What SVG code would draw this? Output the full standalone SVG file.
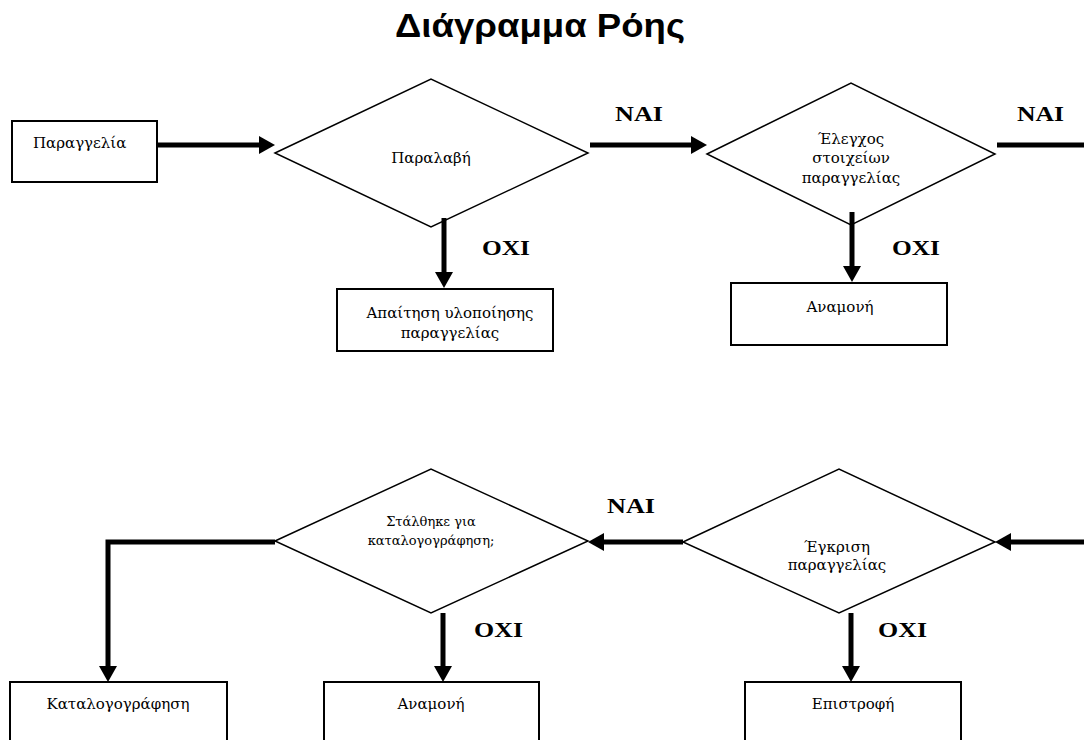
<svg xmlns="http://www.w3.org/2000/svg" width="1084" height="740" viewBox="0 0 1084 740">
  <style>
    .box { fill: #ffffff; stroke: #000000; stroke-width: 2; }
    .dia { fill: #ffffff; stroke: #000000; stroke-width: 1.5; }
    .t { font-family: "DejaVu Serif", "Liberation Serif", serif; font-size: 15px; fill: #000000; text-anchor: middle; }
    .ts { font-family: "DejaVu Serif", "Liberation Serif", serif; font-size: 13px; fill: #000000; text-anchor: middle; }
    .lbl { font-family: "Liberation Serif", "Times New Roman", serif; font-size: 22px; font-weight: bold; fill: #000000; }
    .title { font-family: "Liberation Sans", Arial, sans-serif; font-size: 33px; font-weight: bold; fill: #000000; text-anchor: middle; }
    .con { fill: none; stroke: #000000; stroke-width: 5; stroke-linejoin: miter; }
  </style>
  <defs>
    <marker id="arr" markerUnits="userSpaceOnUse" markerWidth="18" markerHeight="18" refX="8" refY="9" orient="auto" viewBox="0 0 18 18">
      <path d="M0,0 L16,9 L0,18 z" fill="#000000"/>
    </marker>
  </defs>

  <text class="title" x="540" y="37" textLength="290" lengthAdjust="spacingAndGlyphs">Διάγραμμα Ρόης</text>

  <g id="n-paraggelia">
    <rect class="box" x="12" y="121" width="145" height="61"/>
    <text class="t" x="33" y="148" style="text-anchor:start">Παραγγελία</text>
  </g>
  <g id="n-paralavi">
    <polygon class="dia" points="275,153 431,79 588,153 431,227"/>
    <text class="t" x="431" y="163">Παραλαβή</text>
  </g>
  <g id="n-elegxos">
    <polygon class="dia" points="707,154 851,83 995,154 851,225"/>
    <text class="t" x="851" y="144">Έλεγχος</text>
    <text class="t" x="851" y="163">στοιχείων</text>
    <text class="t" x="851" y="183">παραγγελίας</text>
  </g>
  <g id="n-apaitisi">
    <rect class="box" x="337" y="289" width="216" height="62"/>
    <text class="t" x="450" y="318">Απαίτηση υλοποίησης</text>
    <text class="t" x="450" y="338">παραγγελίας</text>
  </g>
  <g id="n-anamoni1">
    <rect class="box" x="731" y="283" width="216" height="62"/>
    <text class="t" x="840" y="312">Αναμονή</text>
  </g>
  <g id="n-stalthike">
    <polygon class="dia" points="275,541 431,469 588,541 431,613"/>
    <text class="ts" x="431" y="526">Στάλθηκε για</text>
    <text class="ts" x="431" y="545">καταλογογράφηση;</text>
  </g>
  <g id="n-egkrisi">
    <polygon class="dia" points="683,542 839,469 995,542 839,613"/>
    <text class="t" x="837" y="552">Έγκριση</text>
    <text class="t" x="837" y="570">παραγγελίας</text>
  </g>
  <g id="n-katalogografisi">
    <rect class="box" x="10" y="682" width="217" height="70"/>
    <text class="t" x="118" y="709">Καταλογογράφηση</text>
  </g>
  <g id="n-anamoni2">
    <rect class="box" x="324" y="682" width="215" height="70"/>
    <text class="t" x="431" y="709">Αναμονή</text>
  </g>
  <g id="n-epistrofi">
    <rect class="box" x="745" y="682" width="216" height="70"/>
    <text class="t" x="853" y="709">Επιστροφή</text>
  </g>

  <g id="connectors">
    <path class="con" d="M157,145 H267" marker-end="url(#arr)"/>
    <path class="con" d="M590,145 H699" marker-end="url(#arr)"/>
    <path class="con" d="M997,145 H1084"/>
    <path class="con" d="M444,218 V280" marker-end="url(#arr)"/>
    <path class="con" d="M852,212 V274" marker-end="url(#arr)"/>
    <path class="con" d="M1084,542 H1003" marker-end="url(#arr)"/>
    <path class="con" d="M683,542 H596" marker-end="url(#arr)"/>
    <path class="con" d="M275,542 H108 V674" marker-end="url(#arr)"/>
    <path class="con" d="M443,613 V674" marker-end="url(#arr)"/>
    <path class="con" d="M851,613 V674" marker-end="url(#arr)"/>
  </g>

  <g id="labels">
    <text class="lbl" x="615" y="121" textLength="48" lengthAdjust="spacingAndGlyphs">NAI</text>
    <text class="lbl" x="1017" y="121" textLength="47" lengthAdjust="spacingAndGlyphs">NAI</text>
    <text class="lbl" x="607" y="513" textLength="48" lengthAdjust="spacingAndGlyphs">NAI</text>
    <text class="lbl" x="482" y="255" textLength="48" lengthAdjust="spacingAndGlyphs">OXI</text>
    <text class="lbl" x="892" y="255" textLength="48" lengthAdjust="spacingAndGlyphs">OXI</text>
    <text class="lbl" x="474" y="637" textLength="49" lengthAdjust="spacingAndGlyphs">OXI</text>
    <text class="lbl" x="878" y="637" textLength="49" lengthAdjust="spacingAndGlyphs">OXI</text>
  </g>
</svg>
